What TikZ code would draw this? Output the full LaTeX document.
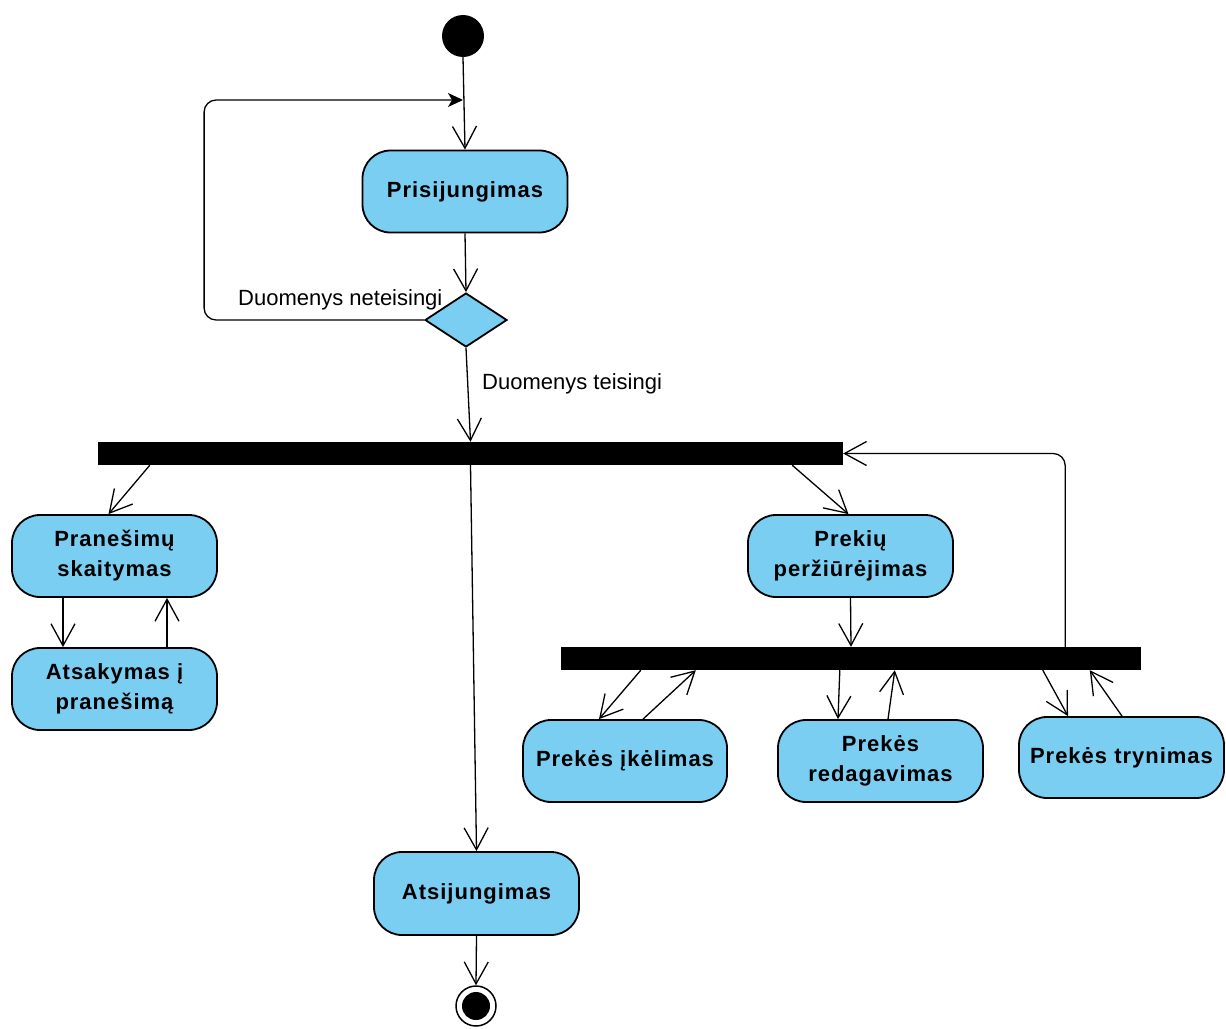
\documentclass[tikz,border=0pt]{standalone}
\usepackage{fontspec}
\setmainfont{Liberation Sans}
\newfontfamily\boxfont[LetterSpace=4.5]{Liberation Sans Bold}
\usetikzlibrary{arrows.meta,shapes.geometric}
\definecolor{actblue}{RGB}{122,206,242}
\tikzset{
  act/.style={draw=black, line width=1.8pt, fill=actblue, rounded corners=28pt,
    minimum width=205pt, minimum height=82pt, align=center, inner sep=0pt,
    font=\boxfont\fontsize{22}{30}\selectfont},
  bar/.style={fill=black, draw=none, inner sep=0pt},
  flow/.style={line width=1.3pt, -{Straight Barb[length=22pt,width=24pt,line width=1.3pt]}},
  back/.style={line width=1.3pt, rounded corners=12pt, -{Stealth[length=15pt,width=14pt,inset=4pt]}},
  guard/.style={inner sep=0pt, font=\fontsize{22}{26}\selectfont},
}
\begin{document}
\begin{tikzpicture}[x=1pt,y=-1pt]
\useasboundingbox (0,0) rectangle (1226,1028);
% nodes
\node[circle, fill=black, minimum size=42pt, inner sep=0pt] (start) at (463,36) {};
\node[act] (pris) at (465,191.5) {Prisijungimas};
\node[diamond, draw=black, line width=1.8pt, fill=actblue, minimum width=82pt, minimum height=54pt, inner sep=0pt, aspect=1.52] (dec) at (466,320) {};
\node[bar, minimum width=745pt, minimum height=23pt] (bar1) at (470.5,453.5) {};
\node[act] (pran) at (114.5,556) {Pranešimų\\skaitymas};
\node[act] (ats) at (114.5,689) {Atsakymas į\\pranešimą};
\node[act] (prekiu) at (850.5,556) {Prekių\\peržiūrėjimas};
\node[bar, minimum width=580pt, minimum height=23pt] (bar2) at (851,658.5) {};
\node[act, minimum width=204pt] (ikel) at (625,761) {Prekės įkėlimas};
\node[act] (redag) at (880.5,761) {Prekės\\redagavimas};
\node[act, minimum height=81pt] (tryn) at (1121.5,757.5) {Prekės trynimas};
\node[act, minimum height=83pt] (atsij) at (476.5,893.5) {Atsijungimas};
\node[circle, draw=black, line width=1.5pt, fill=white, minimum size=40pt, inner sep=0pt] (end) at (476,1006) {};
\fill[black] (end.center) circle[radius=14pt];
\coordinate (loopin) at (463,100);
% connectors
\draw[flow] (start.south) -- (pris.north);
\draw[flow] (pris.south) -- (dec.north);
\draw[back] (dec.west) -- ++(-220,0) |- (loopin);
\node[guard, anchor=base west] (lblno) at (238,305) {Duomenys neteisingi};
\draw[flow] (dec.south) -- (bar1.north);
\node[guard, anchor=base west] (lblyes) at (482,389) {Duomenys teisingi};
\draw[flow] ([xshift=52pt]bar1.south west) -- ([xshift=-6pt]pran.north);
\draw[flow] (bar1.south) -- (atsij.north);
\draw[flow] ([xshift=-51pt]bar1.south east) -- ([xshift=-2pt]prekiu.north);
\draw[flow] ([xshift=-51.5pt]pran.south) -- ([xshift=-51.5pt]ats.north);
\draw[flow] ([xshift=52.5pt]ats.north) -- ([xshift=52.5pt]pran.south);
\draw[flow] (prekiu.south) -- (bar2.north);
\draw[back, -{Straight Barb[length=22pt,width=24pt,line width=1.3pt]}] ([xshift=-76pt]bar2.north east) |- (bar1.east);
\draw[flow] ([xshift=80pt]bar2.south west) -- ([xshift=-26pt]ikel.north);
\draw[flow] ([xshift=18pt]ikel.north) -- ([xshift=135pt]bar2.south west);
\draw[flow] ([xshift=279pt]bar2.south west) -- ([xshift=-42.5pt]redag.north);
\draw[flow] ([xshift=7.5pt]redag.north) -- ([xshift=334pt]bar2.south west);
\draw[flow] ([xshift=482pt]bar2.south west) -- ([xshift=-53.5pt]tryn.north);
\draw[flow] ([xshift=0.5pt]tryn.north) -- ([xshift=529pt]bar2.south west);
\draw[flow] (atsij.south) -- (end.north);
\end{tikzpicture}
\end{document}
